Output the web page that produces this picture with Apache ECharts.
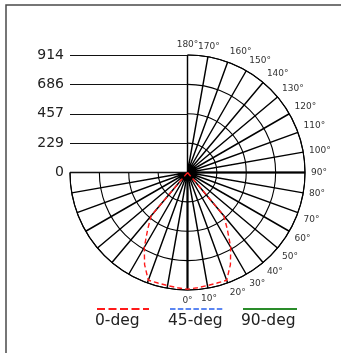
<!DOCTYPE html>
<html>
<head>
<meta charset="utf-8">
<script src="https://cdn.jsdelivr.net/npm/echarts@6/dist/echarts.min.js"></script>
<style>
  html, body { margin: 0; padding: 0; background: #fff; }
  #chart { width: 341px; height: 353px; }
</style>
</head>
<body>
<div id="chart"></div>
<script>
// Intensity scale (cd) shown on the left and used for the polar rings
var intensityTicks = ['0', '229', '457', '686', '914'];
var intensityMax = 914;

// Labelled polar angles (degrees)
var angleTicks = [0, 10, 20, 30, 40, 50, 60, 70, 80, 90, 100, 110, 120, 130, 140, 150, 160, 170, 180];

// C-plane names
var planeNames = ['0-deg', '45-deg', '90-deg'];

// 0-deg plane: gamma angle (deg) and intensity (cd)
var angles0 = [-45, -40, -35, -30, -25, -20, -15, -10, -5, 0, 5, 10, 15, 20, 25, 30, 35, 40, 45];
var values0 = [0, 440, 540, 672, 790, 892, 890, 893, 900, 908, 900, 893, 890, 892, 790, 672, 540, 440, 0];

// 45-deg and 90-deg planes carry no readings
var angles45 = [];
var values45 = [];
var angles90 = [];
var values90 = [];

function pairs(a, v) {
  return a.map(function (ang, i) { return [v[i], ang]; });
}

var FONT = 'DejaVu Sans';
var cx = 187.5, cy = 172.5, R = 117.5;
var ringStep = intensityMax / (intensityTicks.length - 1);

var chart = echarts.init(document.getElementById('chart'), null, { renderer: 'canvas' });

function legendItem(name, left, width, dash) {
  return {
    data: [name], left: left, top: 304, padding: 0,
    itemWidth: width, itemHeight: 10,
    selectedMode: false, formatter: function () { return ''; },
    lineStyle: { width: 2, type: dash }, itemStyle: { color: 'rgba(0,0,0,0)' }
  };
}

var option = {
  animation: false,
  backgroundColor: '#fff',
  grid: { left: 70, top: cy - R, width: R, height: R, containLabel: false },
  xAxis: { type: 'value', show: false, min: 0, max: 1 },
  yAxis: {
    type: 'category',
    data: intensityTicks,
    boundaryGap: false,
    axisLine: { show: false },
    axisTick: { show: false },
    axisLabel: { margin: 6, fontSize: 14, fontFamily: FONT, color: '#222' },
    splitLine: { show: true, lineStyle: { color: '#111', width: 1.1 } }
  },
  polar: [
    { center: [cx, cy], radius: R },
    { center: [cx, cy], radius: R }
  ],
  angleAxis: [
    {
      polarIndex: 0,
      type: 'value',
      min: -90,
      max: 180,
      interval: 10,
      startAngle: 180,
      endAngle: 450,
      clockwise: false,
      axisLine: { show: true, lineStyle: { color: '#000', width: 1.1 } },
      axisTick: { show: false },
      axisLabel: {
        margin: 6,
        fontSize: 9,
        fontFamily: FONT,
        color: '#333',
        formatter: function (v) { return angleTicks.indexOf(v) >= 0 ? v + '°' : ''; }
      },
      splitLine: { show: true, lineStyle: { color: '#000', width: 1.45 } }
    },
    {
      polarIndex: 1,
      type: 'value',
      min: -90,
      max: 180,
      interval: 90,
      startAngle: 180,
      endAngle: 450,
      clockwise: false,
      axisLine: { show: false },
      axisTick: { show: false },
      axisLabel: { show: false },
      splitLine: { show: true, lineStyle: { color: ['rgba(0,0,0,0)', '#000', '#000', 'rgba(0,0,0,0)'], width: 2 } }
    }
  ],
  radiusAxis: [
    {
      polarIndex: 0,
      type: 'value',
      min: 0,
      max: intensityMax,
      interval: ringStep,
      axisLine: { show: false },
      axisTick: { show: false },
      axisLabel: { show: false },
      splitLine: { show: true, lineStyle: { color: '#000', width: 1.1 } }
    },
    {
      polarIndex: 1,
      type: 'value',
      min: 0,
      max: intensityMax,
      show: false
    }
  ],
  legend: [
    legendItem(planeNames[0], 96, 52, [8, 3.5]),
    legendItem(planeNames[1], 169, 54, [5.5, 2.3]),
    legendItem(planeNames[2], 242, 54, 'solid')
  ],
  graphic: [
    {
      type: 'rect', silent: true, z: -10,
      shape: { x: 6, y: 5, width: 420, height: 420 },
      style: { fill: 'none', stroke: '#4a4a4a', lineWidth: 1.5 }
    },
    {
      type: 'text', left: 95, top: 313,
      style: { text: planeNames[0], font: '15.5px "DejaVu Sans"', fill: '#222' }
    },
    {
      type: 'text', left: 168, top: 313,
      style: { text: planeNames[1], font: '15.5px "DejaVu Sans"', fill: '#222' }
    },
    {
      type: 'text', left: 241, top: 313,
      style: { text: planeNames[2], font: '15.5px "DejaVu Sans"', fill: '#222' }
    }
  ],
  series: [
    {
      name: planeNames[0], type: 'line', coordinateSystem: 'polar', polarIndex: 0,
      data: pairs(angles0, values0), symbol: 'none', z: 5,
      lineStyle: { color: '#ff1a1a', width: 1.4, type: [5, 3] },
      itemStyle: { color: '#ff1a1a' }
    },
    {
      name: planeNames[1], type: 'line', coordinateSystem: 'polar', polarIndex: 0,
      data: pairs(angles45, values45), symbol: 'none', z: 5,
      lineStyle: { color: '#5b86f2', width: 1.4, type: [5, 2] },
      itemStyle: { color: '#5b86f2' }
    },
    {
      name: planeNames[2], type: 'line', coordinateSystem: 'polar', polarIndex: 0,
      data: pairs(angles90, values90), symbol: 'none', z: 5,
      lineStyle: { color: '#2a8c2a', width: 1.4, type: 'solid' },
      itemStyle: { color: '#2a8c2a' }
    }
  ]
};

chart.setOption(option);
</script>
</body>
</html>
